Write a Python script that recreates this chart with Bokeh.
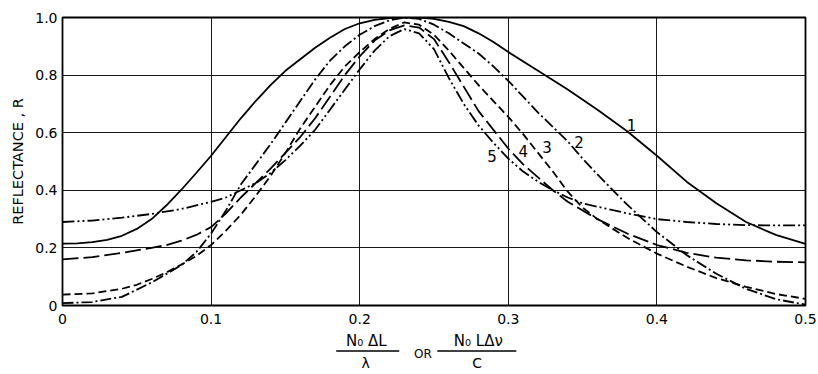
from bokeh.plotting import figure
from bokeh.models import Range1d, FixedTicker, Label
from bokeh.layouts import column
from bokeh.core.properties import value
from bokeh.embed import file_html
from bokeh.resources import INLINE

# ---- data ----
x1 = [0.00, 0.01, 0.02, 0.03, 0.04, 0.05, 0.06, 0.07, 0.08, 0.09, 0.10, 0.11, 0.12, 0.13, 0.14,
      0.15, 0.16, 0.17, 0.18, 0.19, 0.20, 0.21, 0.22, 0.23, 0.24, 0.25, 0.26, 0.27, 0.28, 0.29,
      0.30, 0.32, 0.34, 0.36, 0.38, 0.40, 0.42, 0.44, 0.46, 0.48, 0.50]
r1 = [0.215, 0.216, 0.22, 0.228, 0.242, 0.266, 0.30, 0.348, 0.402, 0.46, 0.52, 0.585, 0.65, 0.71,
      0.765, 0.815, 0.855, 0.895, 0.93, 0.96, 0.98, 0.992, 0.998, 1.0, 1.0, 0.995, 0.985, 0.97,
      0.945, 0.915, 0.88, 0.815, 0.75, 0.68, 0.605, 0.52, 0.43, 0.355, 0.29, 0.245, 0.214]

x2 = [0.00, 0.02, 0.04, 0.06, 0.08, 0.09, 0.10, 0.11, 0.12, 0.13, 0.14, 0.15, 0.16, 0.17,
      0.18, 0.19, 0.20, 0.21, 0.22, 0.23, 0.24, 0.25, 0.26, 0.27, 0.28, 0.29, 0.30, 0.31,
      0.32, 0.33, 0.34, 0.35, 0.36, 0.38, 0.40, 0.42, 0.44, 0.46, 0.48, 0.50]
r2 = [0.008, 0.012, 0.03, 0.08, 0.14, 0.185, 0.25, 0.33, 0.42, 0.49, 0.56, 0.635, 0.71, 0.785,
      0.85, 0.90, 0.94, 0.97, 0.99, 1.0, 0.995, 0.975, 0.945, 0.91, 0.875, 0.83, 0.78, 0.725,
      0.67, 0.62, 0.57, 0.51, 0.455, 0.35, 0.255, 0.175, 0.11, 0.058, 0.022, 0.003]

x3 = [0.00, 0.02, 0.04, 0.05, 0.06, 0.07, 0.08, 0.09, 0.10, 0.11, 0.12, 0.13, 0.14, 0.15,
      0.16, 0.17, 0.18, 0.19, 0.20, 0.21, 0.22, 0.23, 0.24, 0.25, 0.26, 0.27, 0.28, 0.29,
      0.30, 0.31, 0.32, 0.33, 0.34, 0.35, 0.36, 0.38, 0.40, 0.42, 0.44, 0.46, 0.48, 0.50]
r3 = [0.038, 0.042, 0.058, 0.072, 0.092, 0.115, 0.142, 0.172, 0.21, 0.26, 0.315, 0.38, 0.45, 0.53,
      0.615, 0.69, 0.765, 0.83, 0.88, 0.925, 0.96, 0.983, 0.975, 0.94, 0.885, 0.825, 0.765, 0.71,
      0.655, 0.595, 0.53, 0.465, 0.395, 0.34, 0.30, 0.235, 0.18, 0.135, 0.095, 0.065, 0.04, 0.023]

x4 = [0.00, 0.02, 0.04, 0.06, 0.07, 0.08, 0.09, 0.10, 0.11, 0.12, 0.13, 0.14, 0.15, 0.16,
      0.17, 0.18, 0.19, 0.20, 0.21, 0.22, 0.23, 0.24, 0.25, 0.26, 0.27, 0.28, 0.29, 0.30,
      0.31, 0.32, 0.33, 0.34, 0.36, 0.38, 0.40, 0.42, 0.44, 0.46, 0.48, 0.50]
r4 = [0.16, 0.168, 0.183, 0.20, 0.21, 0.225, 0.245, 0.272, 0.32, 0.375, 0.425, 0.475, 0.53, 0.585,
      0.65, 0.725, 0.80, 0.865, 0.92, 0.955, 0.973, 0.965, 0.925, 0.845, 0.76, 0.675, 0.61, 0.545,
      0.49, 0.445, 0.40, 0.36, 0.30, 0.25, 0.21, 0.183, 0.166, 0.157, 0.152, 0.15]

x5 = [0.00, 0.02, 0.04, 0.06, 0.08, 0.10, 0.11, 0.12, 0.13, 0.14, 0.15, 0.16, 0.17, 0.18,
      0.19, 0.20, 0.21, 0.22, 0.23, 0.24, 0.25, 0.26, 0.27, 0.28, 0.29, 0.30, 0.31, 0.32,
      0.33, 0.34, 0.35, 0.36, 0.38, 0.40, 0.42, 0.44, 0.46, 0.48, 0.50]
r5 = [0.29, 0.295, 0.305, 0.318, 0.335, 0.36, 0.375, 0.40, 0.425, 0.46, 0.505, 0.555, 0.61, 0.68,
      0.75, 0.82, 0.885, 0.935, 0.96, 0.945, 0.89, 0.79, 0.70, 0.625, 0.565, 0.51, 0.465, 0.43,
      0.40, 0.375, 0.355, 0.343, 0.32, 0.30, 0.29, 0.283, 0.279, 0.278, 0.278]

curve_names = ["1", "2", "3", "4", "5"]
label_x = [0.383, 0.3476, 0.326, 0.310, 0.289]
label_y = [0.628, 0.567, 0.55, 0.536, 0.52]

x_ticks = [0.0, 0.1, 0.2, 0.3, 0.4, 0.5]
x_tick_labels = ["0", "0.1", "0.2", "0.3", "0.4", "0.5"]
y_ticks = [0.0, 0.2, 0.4, 0.6, 0.8, 1.0]
y_tick_labels = ["0", "0.2", "0.4", "0.6", "0.8", "1.0"]

# x-axis title: two fractions "N0 ΔL / λ  OR  N0 L Δν / C"
title_numerators = ["N\u2080 \u0394L", "N\u2080 L\u0394\u03bd"]
title_denominators = ["\u03bb", "C"]
title_joiner = "OR"

FONT = "DejaVu Sans"

xr = Range1d(0, 0.5)
p = figure(width=818, height=330, output_backend="svg", toolbar_location=None,
           x_range=xr, y_range=Range1d(0, 1.0),
           min_border_left=62, min_border_right=13, min_border_top=17, min_border_bottom=25)
p.background_fill_color = "white"
p.border_fill_color = "white"
p.outline_line_color = "black"
p.outline_line_width = 1.8

p.xgrid.ticker = FixedTicker(ticks=x_ticks)
p.ygrid.ticker = FixedTicker(ticks=y_ticks)
for g in (p.xgrid, p.ygrid):
    g.grid_line_color = "black"
    g.grid_line_width = 1
    g.grid_line_alpha = 0.9

p.xaxis.ticker = FixedTicker(ticks=x_ticks)
p.yaxis.ticker = FixedTicker(ticks=y_ticks)
p.xaxis.major_label_overrides = dict(zip(x_ticks, x_tick_labels))
p.yaxis.major_label_overrides = dict(zip(y_ticks, y_tick_labels))
for ax in (p.xaxis[0], p.yaxis[0]):
    ax.axis_line_color = None
    ax.major_tick_line_color = None
    ax.minor_tick_line_color = None
    ax.major_tick_out = 0
    ax.major_tick_in = 0
    ax.major_label_text_font = FONT
    ax.major_label_text_font_size = "14px"
    ax.major_label_text_color = "black"
p.xaxis.major_label_standoff = 8
p.yaxis.major_label_standoff = 5
p.yaxis.axis_label = "REFLECTANCE , R"
p.yaxis.axis_label_text_font = FONT
p.yaxis.axis_label_text_font_size = "14.5px"
p.yaxis.axis_label_text_font_style = "normal"
p.yaxis.axis_label_text_color = "black"
p.yaxis.axis_label_standoff = 6

lw = 1.8
p.line(x1, r1, line_color="black", line_width=lw)
p.line(x2, r2, line_color="black", line_width=lw, line_dash="11 3 2 3")
p.line(x3, r3, line_color="black", line_width=lw, line_dash="8 4")
p.line(x4, r4, line_color="black", line_width=lw, line_dash="16 5")
p.line(x5, r5, line_color="black", line_width=lw, line_dash="12 3 2 3 2 3")

for name, lx, ly in zip(curve_names, label_x, label_y):
    p.add_layout(Label(x=lx, y=ly, text=name, text_font=FONT, text_font_size="15px",
                       text_align="center", text_baseline="middle", text_color="black"))

# ---- strip below holding the x-axis title (fractions) ----
p2 = figure(width=818, height=44, output_backend="svg", toolbar_location=None,
            x_range=xr, y_range=Range1d(0, 44), x_axis_type=None, y_axis_type=None,
            min_border_left=62, min_border_right=13, min_border_top=0, min_border_bottom=0)
p2.outline_line_color = None
p2.grid.visible = False
p2.background_fill_color = "white"
p2.border_fill_color = "white"

num_x = [0.2044, 0.2798]
den_x = [0.2040, 0.2790]
p2.text(x=num_x, y=[34, 34], text=title_numerators, text_font=value(FONT),
        text_font_size="15px", text_align="center", text_baseline="middle", text_color="black")
p2.text(x=den_x, y=[11.5, 11.5], text=title_denominators, text_font=value(FONT),
        text_font_size="14px", text_align="center", text_baseline="middle", text_color="black")
p2.text(x=[0.2425], y=[21], text=[title_joiner], text_font=value(FONT),
        text_font_size="12px", text_align="center", text_baseline="middle", text_color="black")
p2.segment(x0=[0.1842, 0.2522], y0=[23.5, 23.5], x1=[0.2266, 0.3054], y1=[23.5, 23.5],
           line_color="black", line_width=1.3)

open("out.html", "w").write(file_html(column(p, p2, spacing=0), INLINE))
